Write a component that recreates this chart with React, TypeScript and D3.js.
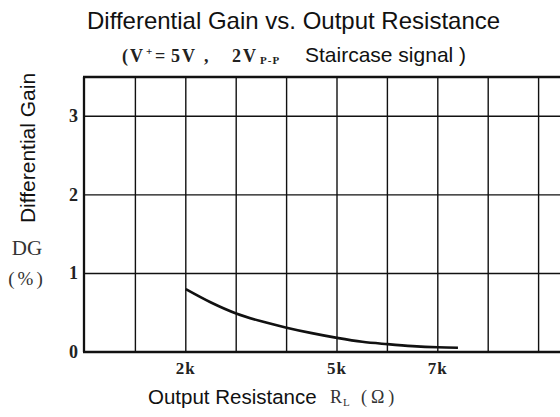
import React from 'react';
import { scaleLinear, line, curveMonotoneX, range } from 'd3';

const W = 560;
const H = 417;

// resistance in ohms, differential gain in %
const resistance = [2000, 2500, 3000, 3500, 4000, 4500, 5000, 5500, 6000, 6500, 7000, 7400];
const gain = [0.8, 0.63, 0.49, 0.39, 0.31, 0.24, 0.18, 0.13, 0.1, 0.075, 0.06, 0.055];

const xTicks = [2000, 5000, 7000];
const xTickLabels = ['2k', '5k', '7k'];
const yTicks = [0, 1, 2, 3];

const SANS = '"Liberation Sans", Arial, sans-serif';
const SERIF = '"Liberation Serif", "DejaVu Serif", serif';

export default function App() {
  const x = scaleLinear().domain([0, 10000]).range([85, 589]);
  const y = scaleLinear().domain([0, 3.5]).range([352, 77]);

  const pts = resistance.map((r, i) => ({ r, g: gain[i] }));
  const path = line<{ r: number; g: number }>()
    .x((d) => x(d.r))
    .y((d) => y(d.g))
    .curve(curveMonotoneX)(pts);

  const vGrid = range(1000, 10000, 1000);
  const hGrid = [1, 2, 3];

  return (
    <svg
      width={W}
      height={H}
      style={{ position: 'absolute', left: 0, top: 0, background: '#fff' }}
    >
      <text x={87} y={29} fontFamily={SANS} fontSize={24} fill="#111">
        Differential Gain vs. Output Resistance
      </text>

      {/* subtitle: mixed serif / sans */}
      <g fontFamily={SERIF} fontSize={18} fontWeight={600} fill="#222">
        <text x={122} y={62}>(</text>
        <text x={130} y={62}>V</text>
        <text x={146} y={55} fontSize={11}>+</text>
        <text x={155} y={62}>=</text>
        <text x={171} y={62}>5</text>
        <text x={182} y={62}>V</text>
        <text x={204} y={62}>,</text>
        <text x={232} y={62}>2</text>
        <text x={243} y={62}>V</text>
        <text x={260} y={64} fontSize={11} letterSpacing={1}>P-P</text>
      </g>
      <text x={305} y={62} fontFamily={SANS} fontSize={21} fill="#111">
        Staircase signal )
      </text>

      {/* grid */}
      <g stroke="#111" strokeWidth={1.4}>
        {vGrid.map((v) => (
          <line key={v} x1={x(v)} x2={x(v)} y1={y(3.5)} y2={y(0)} />
        ))}
        {hGrid.map((v) => (
          <line key={v} x1={x(0)} x2={W} y1={y(v)} y2={y(v)} />
        ))}
      </g>
      {/* frame */}
      <g stroke="#111" strokeWidth={2.3}>
        <line x1={x(0) - 1} x2={x(0) - 1} y1={y(3.5)} y2={y(0)} />
        <line x1={x(0) - 2} x2={W} y1={y(0)} y2={y(0)} />
        <line x1={x(0) - 2} x2={W} y1={y(3.5)} y2={y(3.5)} />
      </g>

      <path d={path || ''} fill="none" stroke="#111" strokeWidth={2.6} />

      {/* y tick labels */}
      {yTicks.map((t) => (
        <text
          key={t}
          x={78}
          y={y(t) + 6}
          textAnchor="end"
          fontFamily={SERIF}
          fontWeight="bold"
          fontSize={18}
          fill="#222"
        >
          {t}
        </text>
      ))}
      {/* x tick labels */}
      {xTicks.map((t, i) => (
        <text
          key={t}
          x={x(t)}
          y={374}
          textAnchor="middle"
          fontFamily={SERIF}
          fontWeight="bold"
          fontSize={17}
          letterSpacing={1}
          fill="#222"
        >
          {xTickLabels[i]}
        </text>
      ))}

      {/* y axis title */}
      <text
        transform="translate(35,148) rotate(-90)"
        textAnchor="middle"
        fontFamily={SANS}
        fontSize={21}
        fill="#111"
      >
        Differential Gain
      </text>
      <text x={27} y={255} textAnchor="middle" fontFamily={SERIF} fontSize={21} fill="#333">
        DG
      </text>
      <text x={27} y={285} textAnchor="middle" fontFamily={SERIF} fontSize={19} letterSpacing={3} fill="#333">
        (%)
      </text>

      {/* x axis title */}
      <text x={148} y={404} fontFamily={SANS} fontSize={20.5} fill="#111">
        Output Resistance
      </text>
      <g fontFamily={SERIF} fontSize={18} fill="#333">
        <text x={330} y={403}>R</text>
        <text x={343} y={406} fontSize={11}>L</text>
        <text x={361} y={403} letterSpacing={4}>(Ω)</text>
      </g>
    </svg>
  );
}
